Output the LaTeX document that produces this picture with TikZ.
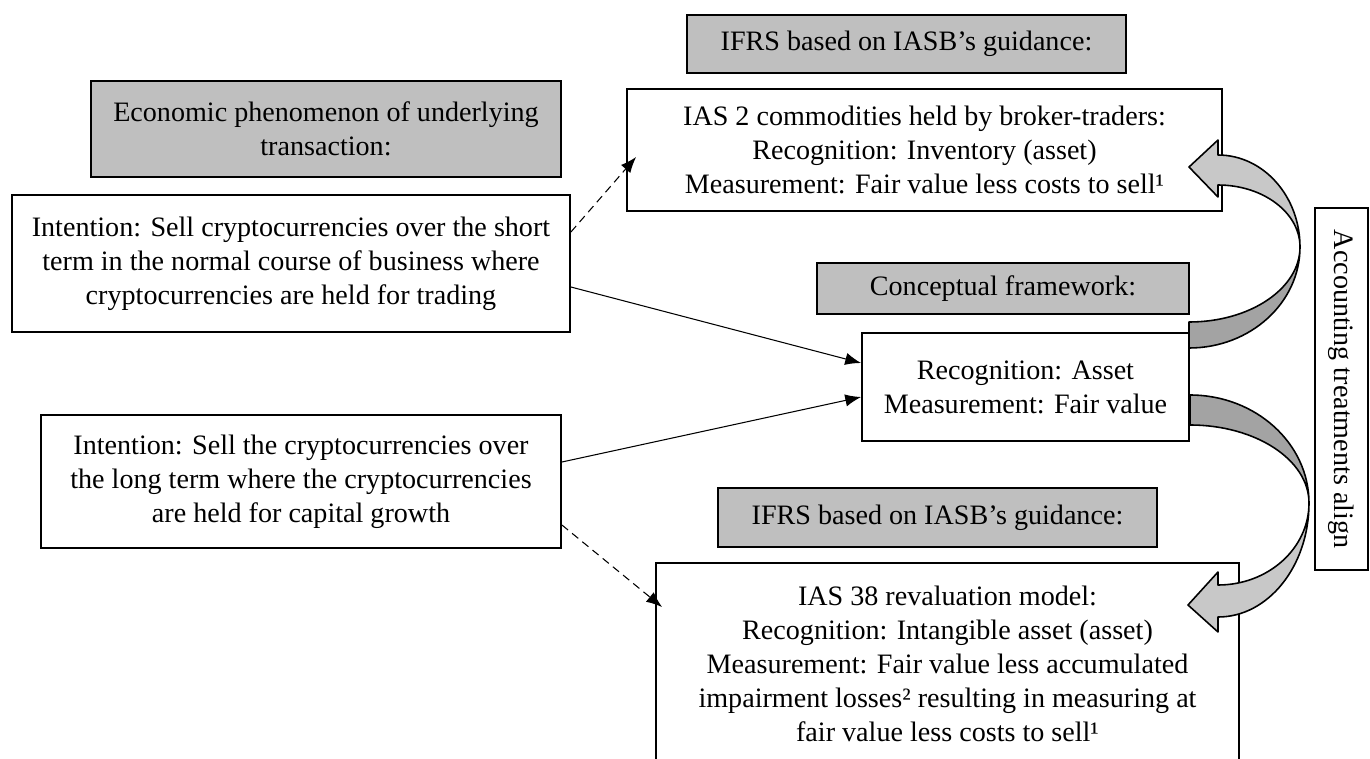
\documentclass[tikz,border=0pt]{standalone}
\usepackage{fontspec}
\setmainfont{Liberation Serif}
\usetikzlibrary{arrows.meta,calc}
\definecolor{boxgray}{RGB}{191,191,191}
\definecolor{arrowdark}{RGB}{163,163,163}
\definecolor{arrowlight}{RGB}{200,200,200}
\begin{document}
\begin{tikzpicture}[x=0.02cm,y=-0.02cm,
    font=\fontsize{16}{19.3}\selectfont,
    box/.style={draw,line width=1.1pt,align=center,inner sep=0pt},
    graybox/.style={box,fill=boxgray},
    whitebox/.style={box,fill=white},
    link/.style={line width=0.6pt,-{Latex[length=9pt,width=7pt]}},
    dashlink/.style={link,dash pattern=on 4.5pt off 3pt},
    bendfill/.style={draw=black,line width=0.9pt,line join=round}]

        % Area del disegno
        \clip (0,0) rectangle (1370,758);

        % Intestazioni grigie
        \node[graybox,minimum width=8.78cm,minimum height=1.16cm] (ifrstop) at (906.5,44) {IFRS based on IASB’s guidance:};
        \node[graybox,minimum width=9.4cm,minimum height=1.92cm] (econ) at (326,129) {Economic phenomenon of underlying\\transaction:};
        \node[graybox,minimum width=7.44cm,minimum height=1.02cm] (concept) at (1003,288.5) {Conceptual framework:};
        \node[graybox,minimum width=8.78cm,minimum height=1.18cm] (ifrsbot) at (937.5,517.5) {IFRS based on IASB’s guidance:};

        % Riquadri bianchi
        \node[whitebox,minimum width=11.9cm,minimum height=2.44cm] (ias2) at (924.5,150)
            {IAS 2 commodities held by broker-traders:\\Recognition: Inventory (asset)\\Measurement: Fair value less costs to sell¹};
        \node[whitebox,minimum width=11.16cm,minimum height=2.74cm] (short) at (291,263.5)
            {Intention: Sell cryptocurrencies over the short\\term in the normal course of business where\\cryptocurrencies are held for trading};
        \node[whitebox,minimum width=6.54cm,minimum height=2.16cm] (cf) at (1025.5,387)
            {Recognition: Asset\\Measurement: Fair value};
        \node[whitebox,minimum width=10.4cm,minimum height=2.66cm] (long) at (301,481.5)
            {Intention: Sell the cryptocurrencies over\\the long term where the cryptocurrencies\\are held for capital growth};
        \node[whitebox,minimum width=11.66cm,minimum height=4.04cm] (ias38) at (947.5,664)
            {IAS 38 revaluation model:\\Recognition: Intangible asset (asset)\\Measurement: Fair value less accumulated\\impairment losses² resulting in measuring at\\fair value less costs to sell¹};
        \node[whitebox,rotate=-90,minimum width=7.24cm,minimum height=1.06cm] (align) at (1341.5,389) {Accounting treatments align};

        % Collegamenti
        \draw[dashlink] ($(short.east)+(0,-31.5)$) -- ($(ias2.west)+(10,7)$);
        \draw[link] ($(short.east)+(0,23.5)$) -- ($(cf.west)+(0,-24)$);
        \draw[link] ($(long.east)+(0,-19.5)$) -- ($(cf.west)+(0,10)$);
        \draw[dashlink] ($(long.east)+(0,43.5)$) -- ($(ias38.north west)+(7,45)$);

        % Freccia curva superiore
        \path[bendfill,fill=arrowdark] (1189,348) .. controls (1250.3,348) and (1300,302.8) .. (1300,247)
            .. controls (1300,288.4) and (1250.3,322) .. (1189,322) -- cycle;
        \path[bendfill,fill=arrowlight] (1300,247) .. controls (1300,196.2) and (1263.3,155) .. (1218,155)
            -- (1218,140) -- (1189,167) -- (1218,197) -- (1218,185)
            .. controls (1263.3,185) and (1300,212.8) .. (1300,247) -- cycle;

        % Freccia curva inferiore
        \path[bendfill,fill=arrowdark] (1190,395) .. controls (1255.7,395) and (1309,443.4) .. (1309,503)
            .. controls (1309,459.9) and (1255.7,425) .. (1190,425) -- cycle;
        \path[bendfill,fill=arrowlight] (1309,503) .. controls (1309,566) and (1268.3,617) .. (1218,617)
            -- (1218,632) -- (1188,605) -- (1218,572) -- (1218,585)
            .. controls (1268.3,585) and (1309,548.3) .. (1309,503) -- cycle;

\end{tikzpicture}
\end{document}
